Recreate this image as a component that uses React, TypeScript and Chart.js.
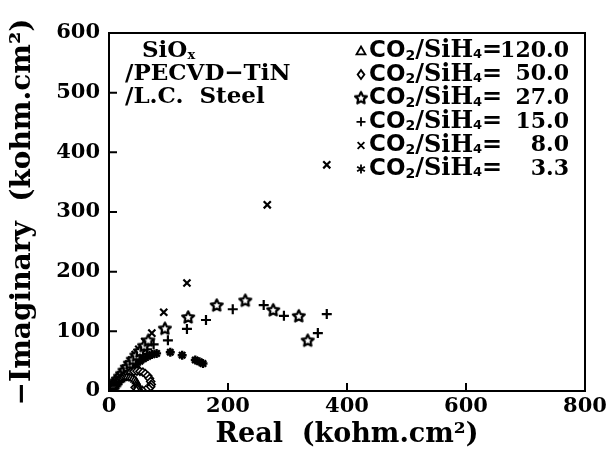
import React, { useEffect, useRef } from "react";
import { Chart, registerables } from "chart.js";

Chart.register(...registerables);

// ---------------- data ----------------
const ratioLabels = ["120.0", "50.0", "27.0", "15.0", "8.0", "3.3"];
const xTicks = [0, 200, 400, 600, 800];
const yTicks = [0, 100, 200, 300, 400, 500, 600];

const real120 = [0.5, 1, 1.5, 2.5, 3.5, 5, 6.5, 8, 10, 12, 14.5, 17, 20, 23, 26.5, 30, 34, 37, 40, 43, 45.5, 47, 48, 48.5, 48, 46];
const imag120 = [0.5, 1, 2, 3, 4.5, 6, 8, 10, 12, 14, 16, 18, 19.5, 21, 22, 23, 23, 22, 20.5, 18.5, 16, 13, 10, 7, 4, 2];

const real50 = [1, 2, 3, 5, 7, 10, 13, 16, 20, 24, 28, 32, 37, 42, 47, 52, 57, 61, 65, 68, 70, 71, 70, 67, 62, 56, 49, 44];
const imag50 = [1, 2, 4, 6, 8.5, 12, 15, 18, 21.5, 24.5, 27, 29.5, 31.5, 33, 33.5, 33, 31.5, 29, 25.5, 21, 16, 11, 7, 4, 2, 1, 3, 6];

const real27 = [1, 2, 3, 4.5, 6, 8, 10, 12.5, 15, 18.5, 22, 26, 30, 35, 40, 46, 52, 59, 66, 94, 133, 181, 229, 276, 319, 334];
const imag27 = [1, 2.5, 4, 6, 8, 10.5, 13, 16.5, 20, 24.5, 29, 34.5, 40, 46.5, 53, 60, 67, 76, 85, 105, 124, 144, 152, 136, 126, 85];

const real15 = [1, 2, 3, 4.5, 6, 8, 10, 12.5, 15, 18.5, 22, 26, 30, 35, 40, 47, 55, 64, 75, 99, 131, 163, 208, 260, 294, 351, 366];
const imag15 = [1, 2, 3, 5, 7, 9, 11, 14, 17, 20.5, 24, 28.5, 33, 39, 45, 53, 62, 70, 78, 85, 104, 119, 137, 144, 126, 97, 129];

const real8 = [0.5, 1, 2, 3.5, 5, 7, 9, 11.5, 14, 17, 20, 24, 28, 33, 38, 44, 50, 60, 72, 92, 131, 266, 366];
const imag8 = [0.5, 1.5, 3, 5, 7, 9.5, 12, 15.5, 19, 23, 27, 32, 38, 45, 52, 61, 70, 83, 97, 132, 181, 312, 379];

const real33 = [0.5, 1, 2, 3, 4, 5.5, 7, 9, 11, 13.5, 16, 19, 22, 26, 30, 35, 40, 46, 52, 58, 65, 72, 80, 103, 123, 145, 152, 158];
const imag33 = [0.5, 1, 2, 3, 4, 6, 8, 10, 12, 14.5, 17, 20, 23, 27, 31, 35.5, 40, 45, 50, 54, 58, 61, 63, 65, 60, 52, 49, 46];

// --------------------------------------
const SERIF = "'DejaVu Serif', serif";
const SANS = "'DejaVu Sans', sans-serif";

function makeStar(): HTMLCanvasElement {
  const c = document.createElement("canvas");
  c.width = 16;
  c.height = 16;
  const g = c.getContext("2d")!;
  const cx = 8, cy = 8.5, ro = 6.2, ri = 3.0;
  g.beginPath();
  for (let i = 0; i < 10; i++) {
    const r = i % 2 === 0 ? ro : ri;
    const a = -Math.PI / 2 + (i * Math.PI) / 5;
    const px = cx + r * Math.cos(a);
    const py = cy + r * Math.sin(a);
    if (i === 0) g.moveTo(px, py);
    else g.lineTo(px, py);
  }
  g.closePath();
  g.fillStyle = "#fff";
  g.fill();
  g.lineWidth = 2.2;
  g.strokeStyle = "#000";
  g.lineJoin = "round";
  g.stroke();
  return c;
}

function drawMarker(ctx: CanvasRenderingContext2D, kind: string, x: number, y: number, r: number, star: HTMLCanvasElement) {
  ctx.save();
  ctx.strokeStyle = "#000";
  ctx.fillStyle = "#fff";
  ctx.lineWidth = 1.8;
  ctx.beginPath();
  if (kind === "triangle") {
    ctx.moveTo(x, y - r);
    ctx.lineTo(x + r, y + r * 0.75);
    ctx.lineTo(x - r, y + r * 0.75);
    ctx.closePath();
    ctx.fill();
    ctx.stroke();
  } else if (kind === "diamond") {
    ctx.moveTo(x, y - r);
    ctx.lineTo(x + r * 0.75, y);
    ctx.lineTo(x, y + r);
    ctx.lineTo(x - r * 0.75, y);
    ctx.closePath();
    ctx.fill();
    ctx.stroke();
  } else if (kind === "star") {
    ctx.drawImage(star, x - 8, y - 8.5);
  } else if (kind === "plus") {
    ctx.moveTo(x - r, y);
    ctx.lineTo(x + r, y);
    ctx.moveTo(x, y - r);
    ctx.lineTo(x, y + r);
    ctx.stroke();
  } else if (kind === "cross") {
    const d = r * 0.75;
    ctx.moveTo(x - d, y - d);
    ctx.lineTo(x + d, y + d);
    ctx.moveTo(x + d, y - d);
    ctx.lineTo(x - d, y + d);
    ctx.stroke();
  } else if (kind === "asterisk") {
    for (let i = 0; i < 3; i++) {
      const a = Math.PI / 2 + (i * Math.PI) / 3;
      ctx.moveTo(x - r * Math.cos(a), y - r * Math.sin(a));
      ctx.lineTo(x + r * Math.cos(a), y + r * Math.sin(a));
    }
    ctx.stroke();
  }
  ctx.restore();
}

type Seg = { t: string; font: string; dy?: number };
function drawRich(ctx: CanvasRenderingContext2D, x: number, y: number, segs: Seg[]) {
  let cx = x;
  for (const s of segs) {
    ctx.font = s.font;
    ctx.textBaseline = "middle";
    ctx.textAlign = "left";
    ctx.fillText(s.t, cx, y + (s.dy || 0));
    cx += ctx.measureText(s.t).width;
  }
  return cx;
}

export default function App() {
  const ref = useRef<HTMLCanvasElement>(null);

  useEffect(() => {
    if (!ref.current) return;
    const star = makeStar();
    const markerKinds = ["triangle", "diamond", "star", "plus", "cross", "asterisk"];

    const toPts = (xs: number[], ys: number[]) => xs.map((v, i) => ({ x: v, y: ys[i] }));

    const base = {
      showLine: false,
      borderColor: "#000",
      backgroundColor: "#fff",
    };

    const datasets: any[] = [
      { ...base, label: ratioLabels[0], data: toPts(real120, imag120), pointStyle: "triangle", pointRadius: 4, borderWidth: 1.6 },
      { ...base, label: ratioLabels[1], data: toPts(real50, imag50), pointStyle: "rectRot", pointRadius: 4, borderWidth: 1.6 },
      { ...base, label: ratioLabels[2], data: toPts(real27, imag27), pointStyle: star, pointRadius: 6 },
      { ...base, label: ratioLabels[3], data: toPts(real15, imag15), pointStyle: "cross", pointRadius: 5, borderWidth: 2.2 },
      { ...base, label: ratioLabels[4], data: toPts(real8, imag8), pointStyle: "crossRot", pointRadius: 5, borderWidth: 2.2 },
      { ...base, label: ratioLabels[5], data: toPts(real33, imag33), pointStyle: "star", pointRadius: 4.5, borderWidth: 2.4 },
    ];

    const framePlugin = {
      id: "frameAndText",
      afterDraw(chart: any) {
        const { ctx, chartArea: a, scales } = chart;
        ctx.save();
        ctx.strokeStyle = "#000";
        ctx.lineWidth = 2;
        ctx.strokeRect(a.left, a.top, a.right - a.left, a.bottom - a.top);
        ctx.beginPath();
        yTicks.slice(1, -1).forEach((v) => {
          const p = scales.y.getPixelForValue(v);
          ctx.moveTo(a.left, p);
          ctx.lineTo(a.left + 8, p);
        });
        xTicks.slice(1, -1).forEach((v) => {
          const p = scales.x.getPixelForValue(v);
          ctx.moveTo(p, a.bottom);
          ctx.lineTo(p, a.bottom - 8);
        });
        ctx.stroke();

        ctx.fillStyle = "#000";
        const fLeft = `bold 23px ${SERIF}`;
        const fMain = `bold 24px ${SERIF}`;
        const fVal = `bold 22px ${SERIF}`;
        // left annotation
        drawRich(ctx, 142, 51, [
          { t: "SiO", font: fLeft },
          { t: "x", font: `bold 13px ${SERIF}`, dy: 5 },
        ]);
        drawRich(ctx, 125, 74, [{ t: "/PECVD−TiN", font: fLeft }]);
        drawRich(ctx, 125, 97, [{ t: "/L.C.  Steel", font: fLeft }]);

        // right legend
        ratioLabels.forEach((lab, i) => {
          const y = 51 + i * 23.6;
          drawMarker(ctx, markerKinds[i], 361, y, 4.5, star);
          drawRich(ctx, 369, y, [
            { t: "CO", font: `bold 23px ${SANS}` },
            { t: "2", font: `bold 14px ${SANS}`, dy: 5 },
            { t: "/SiH", font: fMain },
            { t: "4", font: `bold 13px ${SANS}`, dy: 4 },
            { t: "=", font: fMain },
          ]);
          ctx.font = fVal;
          ctx.textAlign = "right";
          ctx.textBaseline = "middle";
          ctx.fillText(lab, 569, y);
        });
        ctx.restore();
      },
    };

    const tickFont = { family: SERIF, size: 21, weight: "bold" as const };
    const xTitleFont = { family: SERIF, size: 27, weight: "bold" as const };
    const yTitleFont = { family: SERIF, size: 28, weight: "bold" as const };

    const chart = new Chart(ref.current, {
      type: "scatter",
      data: { datasets },
      options: {
        animation: false,
        responsive: false,
        events: [],
        layout: { padding: { left: 0, top: 33, right: 27, bottom: 0 } },
        plugins: { legend: { display: false }, tooltip: { enabled: false } },
        scales: {
          x: {
            type: "linear",
            min: 0,
            max: 800,
            afterBuildTicks: (s: any) => {
              s.ticks = xTicks.map((v) => ({ value: v }));
            },
            ticks: { font: tickFont, color: "#000", padding: 3, maxRotation: 0 },
            grid: { display: false, drawTicks: false },
            border: { display: false },
            title: { display: true, text: "Real  (kohm.cm²)", font: xTitleFont, color: "#000", padding: { top: 0, bottom: 5 } },
            afterFit: (s: any) => {
              s.height = 65;
            },
          },
          y: {
            type: "linear",
            min: 0,
            max: 600,
            afterBuildTicks: (s: any) => {
              s.ticks = yTicks.map((v) => ({ value: v }));
            },
            ticks: { font: tickFont, color: "#000", padding: 9 },
            grid: { display: false, drawTicks: false },
            border: { display: false },
            title: { display: true, text: "−Imaginary  (kohm.cm²)", font: yTitleFont, color: "#000", padding: { top: 6, bottom: 0 } },
            afterFit: (s: any) => {
              s.width = 109;
            },
          },
        },
      },
      plugins: [framePlugin],
    });
    return () => chart.destroy();
  }, []);

  return (
    <div style={{ position: "absolute", left: 0, top: 0, width: 612, height: 456, background: "#fff" }}>
      <canvas ref={ref} width={612} height={456} style={{ width: 612, height: 456, display: "block" }} />
    </div>
  );
}
